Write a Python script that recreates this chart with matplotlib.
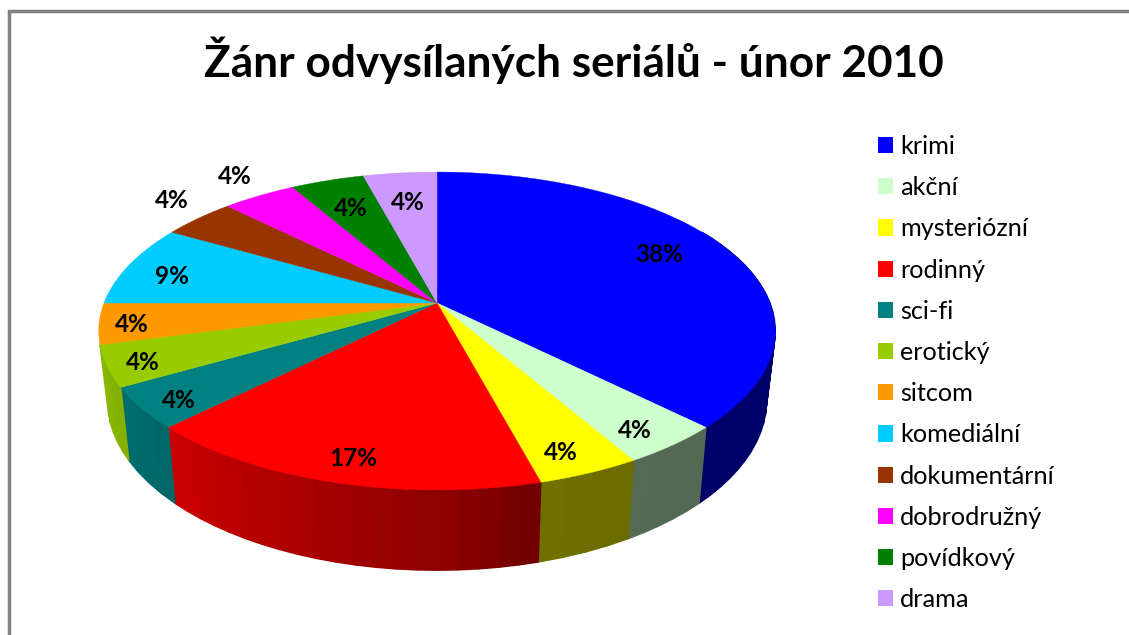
import numpy as np
import matplotlib
matplotlib.use('Agg')
import matplotlib.pyplot as plt
from matplotlib.patches import Patch

# Data
genres = ['krimi', 'akční', 'mysteriózní', 'rodinný', 'sci-fi', 'erotický', 'sitcom',
          'komediální', 'dokumentární', 'dobrodružný', 'povídkový', 'drama']
counts = [9, 1, 1, 4, 1, 1, 1, 2, 1, 1, 1, 1]
percent_labels = ['38%', '4%', '4%', '17%', '4%', '4%', '4%', '9%', '4%', '4%', '4%', '4%']
title = 'Žánr odvysílaných seriálů - únor 2010'

colors = ['#0000FF', '#CCFFCC', '#FFFF00', '#FF0000', '#008080', '#99CC00', '#FF9900',
          '#00CCFF', '#993300', '#FF00FF', '#008000', '#CC99FF']
label_xy = [(659, 254), (635, 430), (561, 453), (353, 459), (179, 400), (143, 363),
            (132, 325), (172, 276), (172, 200), (235, 177), (351, 209), (408, 203)]

plt.rcParams['font.family'] = ['Lato', 'DejaVu Sans']

fig = plt.figure(figsize=(11.29, 6.35), dpi=100)
ax = fig.add_axes([0, 0, 1, 1])
ax.set_xlim(0, 1129)
ax.set_ylim(635, 0)
ax.axis('off')

# Chart border (top and left only, the rest is cut off)
ax.plot([8.5, 8.5, 1129], [635, 10.5, 10.5], color='#808080', lw=2.5, solid_joinstyle='miter')


# Perspective projection of the pie, theta runs clockwise from the top
def top_face(theta):
    d = 1 + 0.176 * np.cos(theta)
    return 437 + 333 * np.sin(theta) / d, 303 - 154 * np.cos(theta) / d


def bottom_face(theta):
    d = 1 + 0.176 * np.cos(theta)
    return 437 + 324.5 * np.sin(theta) / d, 370 - 165 * np.cos(theta) / d


def shade(color, theta):
    # side wall gets darker towards the right
    f = np.interp(np.degrees(theta), [140, 165, 180, 225, 240, 255], [0.41, 0.44, 0.56, 0.80, 0.86, 0.9])
    return tuple(c * f for c in matplotlib.colors.to_rgb(color))


edges = np.radians(np.cumsum([0] + counts) / sum(counts) * 360)

# Side walls, the sitcom slice and everything after it has no visible wall
for i in range(len(counts)):
    n = max(1, int(np.degrees(edges[i + 1] - edges[i]) / 3))
    steps = np.linspace(edges[i], edges[i + 1], n + 1)
    for a, b in zip(steps[:-1], steps[1:]):
        mid = (a + b) / 2
        if np.degrees(mid) < 60 or np.degrees(mid) > 255:
            continue
        xa, ya = top_face(a)
        xb, yb = top_face(b)
        xc, yc = bottom_face(b)
        xd, yd = bottom_face(a)
        c = shade(colors[i], mid)
        ax.fill([xa, xb, xc, xd], [ya, yb, yc, yd], color=c, lw=1.0, zorder=2)

# Top faces
for i in range(len(counts)):
    t = np.linspace(edges[i], edges[i + 1], 80)
    x, y = top_face(t)
    ax.fill(np.r_[437, x], np.r_[303, y], color=colors[i], lw=0.3, zorder=3)

for lab, (x, y) in zip(percent_labels, label_xy):
    ax.text(x, y, lab, fontsize=17.5, fontweight='bold', ha='center', va='center', color='black', zorder=4)

ax.text(574, 60, title, fontsize=31.8, fontweight='bold', ha='center', va='center', color='black')

# Legend
handles = [Patch(facecolor=c, edgecolor='none', label=g) for c, g in zip(colors, genres)]
ax.legend(handles=handles, loc='upper left', bbox_to_anchor=(878 / 1129, 1 - 135 / 635), frameon=False,
          fontsize=18.2, handlelength=0.6, handleheight=0.6, handletextpad=0.28, labelspacing=0.72,
          borderpad=0, borderaxespad=0)

fig.savefig('out.png', dpi=100)
